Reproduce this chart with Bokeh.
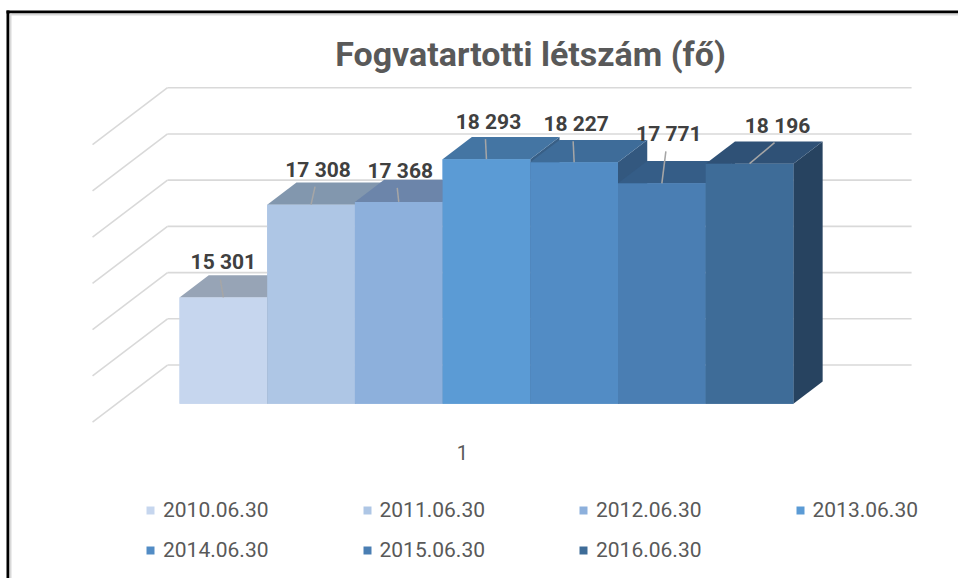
from bokeh.plotting import figure
from bokeh.models import ColumnDataSource, Legend, LegendItem, Label, Range1d
from bokeh.embed import file_html
from bokeh.resources import INLINE
from bokeh.core.properties import value

# ---------------- data ----------------
title_text = "Fogvatartotti létszám (fő)"
categories = ["2010.06.30", "2011.06.30", "2012.06.30", "2013.06.30",
              "2014.06.30", "2015.06.30", "2016.06.30"]
headcount = [15301, 17308, 17368, 18293, 18227, 17771, 18196]
category_label = "1"
axis_min = 13000
grid_values = [13000, 14000, 15000, 16000, 17000, 18000, 19000]

# ---------------- styles ----------------
front_colors = ["#C6D6EE", "#AEC6E5", "#8DB0DC", "#5B9BD5", "#528CC5", "#4A7EB3", "#3E6C98"]
top_colors = ["#97A4B6", "#8297AE", "#6C85AA", "#4475A3", "#3E6C99", "#355D87", "#2F5176"]
side_colors = ["#7E8A98", "#6C7E91", "#5A6F8D", "#385F86", "#33587F", "#2C4D70", "#274360"]
grid_color = "#D9D9D9"
label_color = "#404040"
text_gray = "#595959"
FONT = "Roboto"

# label nudges in pixels (dx right, dy above the front-top edge)
label_nudge_x = [0, 7, 1.5, 2, 2, 7, 28]
label_nudge_y = [35, 35, 31, 37, 38, 49, 38]

# ---------------- layout / projection ----------------
W, H = 958, 578
PX_PER_X = 87.7                 # one category width in px
PX_PER_1000 = 46.22             # px per 1000 persons
UPP = 1000.0 / PX_PER_1000      # value units per px
X0 = -179 / PX_PER_X
Y1 = axis_min + 403.3 * UPP

DX = 75.0 / PX_PER_X            # oblique depth vector (whole wall depth)
DY = 57.0 * UPP
BAR_D = 0.39                    # bar depth
WALL_BACK = 0.68
WALL_FRONT = -0.32
WALL_LEFT = -0.718
WALL_RIGHT = len(headcount) + 0.766


def proj(x3, v, d):
    return x3 + d * DX, v + d * DY


def page_x(px):
    return X0 + px / PX_PER_X


def page_y(py):
    return Y1 - py * UPP


p = figure(width=W, height=H, output_backend="svg", toolbar_location=None,
           x_range=Range1d(X0, X0 + W / PX_PER_X),
           y_range=Range1d(Y1 - H * UPP, Y1),
           x_axis_location=None, y_axis_location=None, min_border=0)
p.grid.visible = False
p.outline_line_color = None
p.background_fill_color = "white"
p.border_fill_color = "white"

# ---- chart frame border (left / top) ----
p.segment(x0=[page_x(6), page_x(10)], y0=[page_y(11.5), page_y(14)],
          x1=[page_x(980), page_x(980)], y1=[page_y(11.5), page_y(14)],
          line_color=["black", "#D9D9D9"], line_width=[3, 2])
p.segment(x0=[page_x(7.5), page_x(10)], y0=[page_y(10), page_y(13)],
          x1=[page_x(7.5), page_x(10)], y1=[page_y(600), page_y(600)],
          line_color=["black", "#D9D9D9"], line_width=[3, 2])

# ---- walls: gridlines ----
gx0, gy0, gx1, gy1 = [], [], [], []
for g in grid_values:
    ax, ay = proj(WALL_LEFT, g, WALL_FRONT)
    bx, by = proj(WALL_LEFT, g, WALL_BACK)
    cx, cy = proj(WALL_RIGHT, g, WALL_BACK)
    gx0 += [ax, bx]; gy0 += [ay, by]; gx1 += [bx, cx]; gy1 += [by, cy]
p.segment(x0=gx0, y0=gy0, x1=gx1, y1=gy1, line_color=grid_color, line_width=1.6)

# ---- bars (drawn left to right) ----
side_xs, side_ys, top_xs, top_ys = [], [], [], []
for i, v in enumerate(headcount):
    pts = [proj(i + 1, axis_min, 0), proj(i + 1, v, 0), proj(i + 1, v, BAR_D), proj(i + 1, axis_min, BAR_D)]
    side_xs.append([a for a, b in pts]); side_ys.append([b for a, b in pts])
    pts = [proj(i, v, 0), proj(i + 1, v, 0), proj(i + 1, v, BAR_D), proj(i, v, BAR_D)]
    top_xs.append([a for a, b in pts]); top_ys.append([b for a, b in pts])

for i in range(len(headcount)):
    p.patch(side_xs[i], side_ys[i], fill_color=side_colors[i], line_color=None)
    p.patch(top_xs[i], top_ys[i], fill_color=top_colors[i], line_color=None)
    p.quad(left=[i], right=[i + 1], bottom=[axis_min], top=[headcount[i]],
           fill_color=front_colors[i], line_color=None)

# renderer carrying the legend swatches (drawn underneath the 3D bars)
front_src = ColumnDataSource(dict(left=list(range(len(headcount))),
                                  right=[i + 1 for i in range(len(headcount))],
                                  bottom=[axis_min] * len(headcount),
                                  top=headcount, color=front_colors))
front_r = p.quad(left="left", right="right", bottom="bottom", top="top",
                 fill_color="color", line_color=None, source=front_src, fill_alpha=1)
front_r.level = "underlay"

# ---- data labels + leader lines ----
lx, ly, lt, ldx0, ldy0, ldx1, ldy1 = [], [], [], [], [], [], []
for i, v in enumerate(headcount):
    cx = i + 0.5
    tx = cx + label_nudge_x[i] / PX_PER_X
    ty = v + label_nudge_y[i] * UPP
    lx.append(tx); ly.append(ty)
    lt.append(f"{v:,}".replace(",", " "))
    ldx0.append(tx - 3 / PX_PER_X); ldy0.append(ty - 17 * UPP)
    ldx1.append(cx); ldy1.append(v)
p.segment(x0=ldx0, y0=ldy0, x1=ldx1, y1=ldy1, line_color="#A6A6A6", line_width=1.5)
p.text(x=lx, y=ly, text=lt, text_font=value(FONT), text_font_style="bold",
       text_font_size="21px", text_color=label_color, text_align="center",
       text_baseline="middle")

# ---- category label ----
cx3, cy3 = proj(len(headcount) / 2, axis_min, WALL_FRONT)
p.text(x=[cx3], y=[cy3 - 30 * UPP], text=[category_label], text_font=value(FONT),
       text_font_size="20px", text_color=text_gray, text_align="center",
       text_baseline="middle")

# ---- title ----
p.add_layout(Label(x=page_x(530), y=page_y(53), text=title_text, text_font=FONT,
                   text_font_style="bold", text_font_size="34px", text_color=text_gray,
                   text_align="center", text_baseline="middle"))

# ---- legends (two rows) ----
def make_legend(idx, loc):
    items = [LegendItem(label=categories[k], renderers=[front_r], index=k) for k in idx]
    return Legend(items=items, location=loc, orientation="horizontal",
                  spacing=93, label_standoff=8, glyph_width=10, glyph_height=10,
                  padding=0, margin=0, border_line_alpha=0, background_fill_alpha=0,
                  label_text_font=FONT, label_text_font_size="21px",
                  label_text_color=text_gray)

p.add_layout(make_legend([0, 1, 2, 3], (145, 56)))
p.add_layout(make_legend([4, 5, 6], (145, 16)))

open("out.html", "w").write(file_html(p, INLINE))
